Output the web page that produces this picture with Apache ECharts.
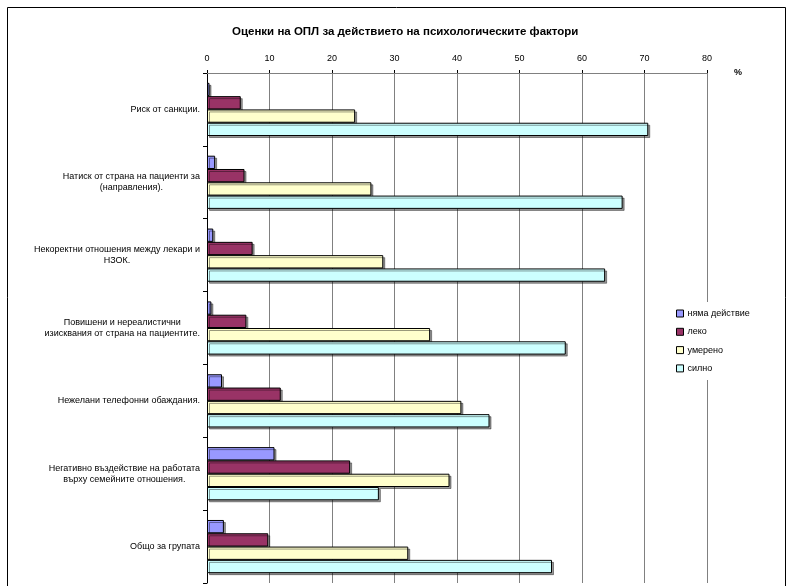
<!DOCTYPE html>
<html>
<head>
<meta charset="utf-8">
<script src="https://cdn.jsdelivr.net/npm/echarts@6/dist/echarts.min.js"></script>
<style>
  html, body { margin: 0; padding: 0; background: #fff; }
  #chart { width: 794px; height: 586px; }
</style>
</head>
<body>
<div id="chart"></div>
<script>
// Factors (top to bottom)
const categories = [
  'Риск от санкции.',
  'Натиск от страна на пациенти за\n(направления).',
  'Некоректни отношения между лекари и\nНЗОК.',
  'Повишени и нереалистични\nизисквания от страна на пациентите.',
  'Нежелани телефонни обаждания.',
  'Негативно въздействие на работата\nвърху семейните отношения.',
  'Общо за групата'
];

// Share of respondents, %
const noEffect = [0.4, 1.3, 1.0, 0.7, 2.4, 10.8, 2.7];
const mild     = [5.4, 6.0, 7.3, 6.3, 11.8, 22.9, 9.8];
const moderate = [23.7, 26.3, 28.2, 35.7, 40.7, 38.8, 32.2];
const strong   = [70.6, 66.5, 63.7, 57.4, 45.2, 27.5, 55.2];

const seriesNames = ['няма действие', 'леко', 'умерено', 'силно'];
const seriesColors = ['#9999FF', '#993366', '#FFFFCC', '#CCFFFF'];
const seriesValues = [noEffect, mild, moderate, strong];

const FONT = '"Liberation Sans", Arial, sans-serif';

const chart = echarts.init(document.getElementById('chart'), null, { renderer: 'canvas' });

chart.setOption({
  animation: false,
  backgroundColor: '#fff',
  textStyle: { fontFamily: FONT, color: '#000' },
  graphic: [{
    type: 'rect',
    shape: { x: 7.5, y: 7.5, width: 778, height: 620 },
    style: { fill: 'none', stroke: '#000', lineWidth: 1 },
    silent: true,
    z: -1
  }],
  title: {
    text: 'Оценки на ОПЛ за действието на психологическите фактори',
    left: 227,
    top: 21,
    padding: 5,
    textStyle: { fontFamily: FONT, fontSize: 11.5, fontWeight: 'bold', color: '#000' }
  },
  legend: {
    orient: 'vertical',
    left: 672,
    top: 302,
    padding: [6, 5, 6, 4],
    backgroundColor: '#fff',
    icon: 'rect',
    itemWidth: 7,
    itemHeight: 7,
    itemGap: 7.3,
    data: seriesNames,
    itemStyle: { borderColor: '#000', borderWidth: 1, shadowColor: 'transparent', shadowBlur: 0, shadowOffsetX: 0, shadowOffsetY: 0 },
    textStyle: { fontFamily: FONT, fontSize: 9, lineHeight: 11, color: '#000', padding: [0, 0, 0, -1] },
    z: 10
  },
  grid: { left: 207, right: 87, top: 73, bottom: 3, containLabel: false },
  xAxis: {
    type: 'value',
    position: 'top',
    min: 0,
    max: 80,
    interval: 10,
    name: '%',
    nameLocation: 'end',
    nameGap: 27,
    nameTextStyle: { fontFamily: FONT, fontSize: 9, fontWeight: 'bold', color: '#000', verticalAlign: 'middle', padding: [0, 0, 20, 0] },
    axisLine: { show: true, lineStyle: { color: '#808080', width: 1 } },
    axisTick: { show: true, length: 3, lineStyle: { color: '#000' } },
    axisLabel: { fontFamily: FONT, fontSize: 9, color: '#000', margin: 9.5 },
    splitLine: { show: true, lineStyle: { color: '#808080', width: 1 } }
  },
  yAxis: {
    type: 'category',
    inverse: true,
    data: categories,
    axisLine: { show: true, lineStyle: { color: '#000', width: 1 } },
    axisTick: { show: true, length: 4, lineStyle: { color: '#000' } },
    splitLine: { show: false },
    axisLabel: {
      margin: 7,
      align: 'right',
      formatter: function (v) {
        return v.split('\n').map(function (l) { return '{c|' + l + '}'; }).join('\n');
      },
      rich: {
        c: { align: 'center', fontFamily: FONT, fontSize: 9, lineHeight: 11, color: '#000' }
      }
    }
  },
  series: seriesNames.map(function (name, i) {
    return {
      name: name,
      type: 'bar',
      data: seriesValues[i],
      barGap: '0%',
      barCategoryGap: '27%',
      itemStyle: {
        color: seriesColors[i],
        borderColor: '#000',
        borderWidth: 1,
        shadowColor: 'rgba(0,0,0,0.4)',
        shadowBlur: 0,
        shadowOffsetX: 2,
        shadowOffsetY: 2
      }
    };
  })
});
</script>
</body>
</html>
